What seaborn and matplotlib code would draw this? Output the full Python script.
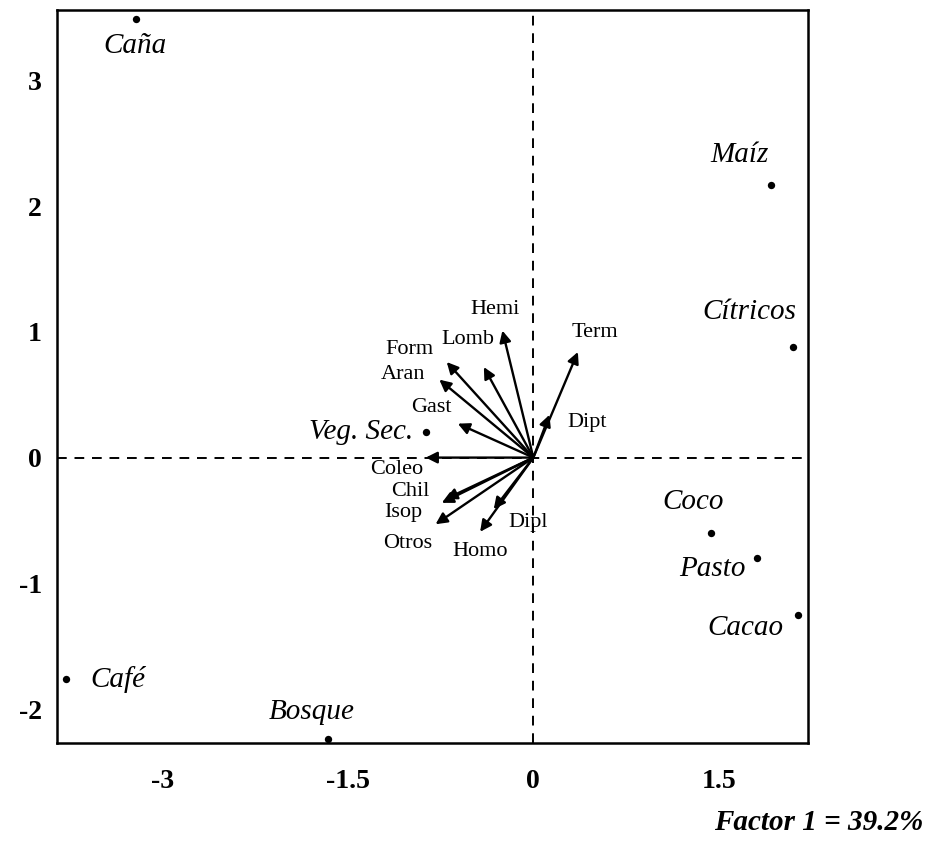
import matplotlib
matplotlib.use('Agg')
import matplotlib.pyplot as plt
import seaborn as sns
import pandas as pd

# ---- data ----
sites = ['Caña', 'Maíz', 'Cítricos', 'Veg. Sec.', 'Coco', 'Pasto', 'Cacao', 'Café', 'Bosque']
site_x = [-3.21, 1.92, 2.10, -0.87, 1.44, 1.81, 2.14, -3.78, -1.66]
site_y = [3.49, 2.17, 0.88, 0.20, -0.60, -0.80, -1.25, -1.76, -2.24]

taxa = ['Hemi', 'Lomb', 'Form', 'Aran', 'Gast', 'Term', 'Dipt',
        'Coleo', 'Chil', 'Isop', 'Otros', 'Homo', 'Dipl']
taxa_x = [-0.25, -0.40, -0.70, -0.76, -0.61, 0.36, 0.13,
          -0.87, -0.74, -0.71, -0.79, -0.43, -0.32]
taxa_y = [1.01, 0.72, 0.76, 0.62, 0.27, 0.84, 0.34,
          0.00, -0.36, -0.33, -0.53, -0.59, -0.41]

x_ticks = [-3, -1.5, 0, 1.5]
x_ticklabels = ['-3', '-1.5', '0', '1.5']
y_ticks = [-2, -1, 0, 1, 2, 3]
y_ticklabels = ['-2', '-1', '0', '1', '2', '3']
factor_label = 'Factor 1 = 39.2%'

# ---- layout (label offsets in pixels) ----
site_offsets = [(-1, -27), (-31, 30), (-44, 35), (-65, 0), (-18, 31),
                (-45, -11), (-53, -13), (52, -1), (-16, 27)]
taxa_offsets = [(-7, 21), (-16, 28), (-37, 13), (-36, 5), (-26, 16), (17, 19), (38, -8),
                (-29, -12), (-31, 11), (-42, -13), (-28, -19), (0, -20), (34, -13)]

sns.set_style('white')
plt.rcParams['font.family'] = ['Liberation Serif', 'DejaVu Serif']
plt.rcParams['text.color'] = 'black'
plt.rcParams['xtick.color'] = 'black'
plt.rcParams['ytick.color'] = 'black'
plt.rcParams['axes.labelcolor'] = 'black'

fig = plt.figure(figsize=(9.28, 8.42), dpi=100)
ax = fig.add_axes([57 / 928, 99 / 842, 751 / 928, 733 / 842])

df_sites = pd.DataFrame({'x': site_x, 'y': site_y, 'site': sites})
sns.scatterplot(data=df_sites, x='x', y='y', color='black', s=28,
                edgecolor='black', linewidth=0, ax=ax, zorder=5)

ax.axhline(0, color='black', lw=1.4, ls=(0, (5, 4)), zorder=1)
ax.axvline(0, color='black', lw=1.4, ls=(0, (5, 4)), zorder=1)

for name, x, y, (dx, dy) in zip(sites, site_x, site_y, site_offsets):
    ax.annotate(name, xy=(x, y), xytext=(dx, dy), textcoords='offset pixels',
                ha='center', va='center', fontsize=21, fontstyle='italic',
                color='black')

for name, x, y, (dx, dy) in zip(taxa, taxa_x, taxa_y, taxa_offsets):
    ax.annotate('', xy=(x, y), xytext=(0, 0),
                arrowprops=dict(arrowstyle='-|>', color='black', lw=1.7,
                                mutation_scale=17, shrinkA=0, shrinkB=0),
                zorder=4)
    ax.annotate(name, xy=(x, y), xytext=(dx, dy), textcoords='offset pixels',
                ha='center', va='center', fontsize=16, color='black')

ax.set_xlim(-3.85, 2.22)
ax.set_ylim(-2.27, 3.56)
ax.set_xticks(x_ticks)
ax.set_xticklabels(x_ticklabels)
ax.set_yticks(y_ticks)
ax.set_yticklabels(y_ticklabels)
ax.set_xlabel('')
ax.set_ylabel('')
ax.tick_params(axis='both', direction='inout', length=10, width=1.5,
               labelsize=20, color='black', labelcolor='black')
ax.tick_params(axis='x', pad=14)
ax.tick_params(axis='y', pad=6)
for lab in ax.get_xticklabels() + ax.get_yticklabels():
    lab.set_fontweight('bold')

for sp in ax.spines.values():
    sp.set_visible(True)
    sp.set_color('black')
    sp.set_linewidth(1.8)

fig.text(923 / 928, 1 - 822 / 842, factor_label, ha='right', va='center',
         fontsize=21, fontweight='bold', fontstyle='italic', color='black')

fig.savefig('out.png', dpi=100, facecolor='white')
